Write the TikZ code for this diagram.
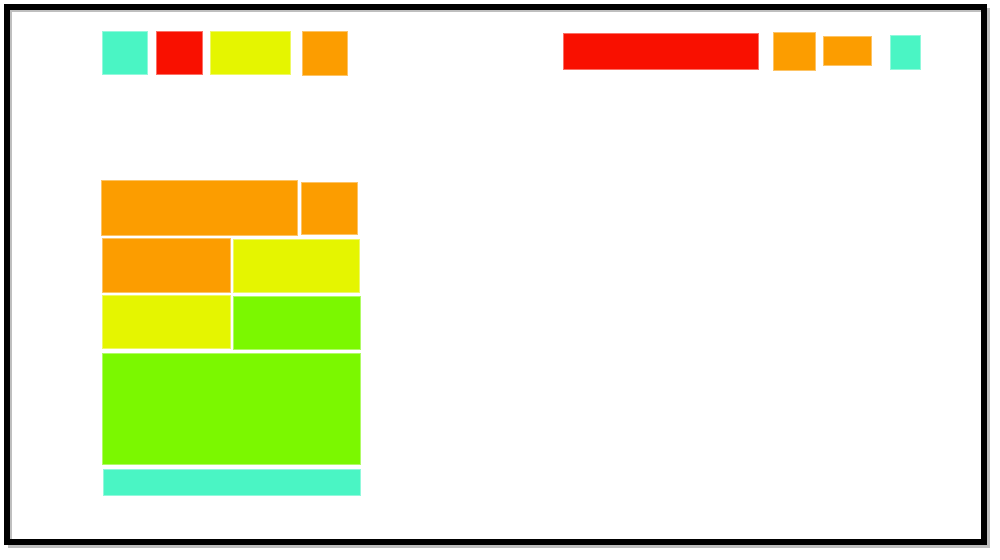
\documentclass[tikz,border=0pt]{standalone}
\usetikzlibrary{calc}
\definecolor{cCyan}{RGB}{74,245,196}
\definecolor{cRed}{RGB}{249,16,0}
\definecolor{cYellow}{RGB}{229,245,0}
\definecolor{cOrange}{RGB}{252,157,0}
\definecolor{cGreen}{RGB}{123,248,0}
\tikzset{
  blk/.style={fill=#1, draw=#1!60!white, line width=0.4pt},
}
\begin{document}
\begin{tikzpicture}[x=0.02cm,y=-0.02cm]
\useasboundingbox (0,0) rectangle (1000,559);
\fill[white] (0,0) rectangle (1000,559);
% shadow of frame
\draw[line width=0.08cm, black!25] (10,10) rectangle (988,546);
\draw[line width=0.05cm, black!40] (9,9) rectangle (986,544);
% frame
\draw[line width=0.12cm, black] (7,7) rectangle (984,542);
% top-left row
\draw[blk=cCyan]   (102,31) rectangle (147,74);
\draw[blk=cRed]    (156,31) rectangle (202,74);
\draw[blk=cYellow] (210,31) rectangle (290,74);
\draw[blk=cOrange] (302,31) rectangle (347,75);
% top-right row
\draw[blk=cRed]    (563,33) rectangle (758,69);
\draw[blk=cOrange] (773,32) rectangle (815,70);
\draw[blk=cOrange] (823,36) rectangle (871,65);
\draw[blk=cCyan]   (890,35) rectangle (920,69);
% grid
\draw[blk=cOrange] (101,180) rectangle (297,235);
\draw[blk=cOrange] (301,182) rectangle (357,234);
\draw[blk=cOrange] (102,238) rectangle (230,292);
\draw[blk=cYellow] (233,239) rectangle (359,292);
\draw[blk=cYellow] (102,295) rectangle (230,348);
\draw[blk=cGreen]  (233,296) rectangle (360,349);
\draw[blk=cGreen]  (102,353) rectangle (360,464);
\draw[blk=cCyan]   (103,469) rectangle (360,495);
\end{tikzpicture}
\end{document}
